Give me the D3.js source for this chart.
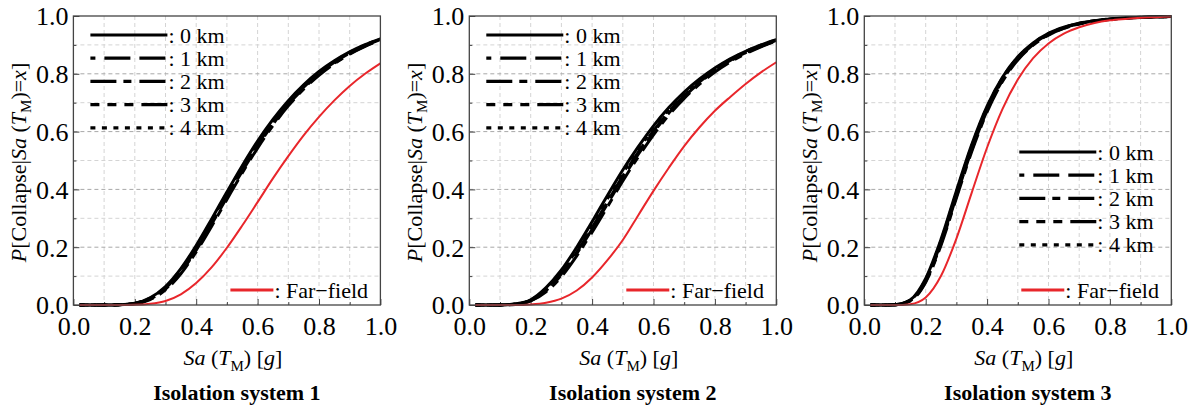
<!DOCTYPE html>
<html>
<head>
<meta charset="utf-8">
<script src="https://cdn.jsdelivr.net/npm/d3@7"></script>
<style>
  body { margin: 0; background: #fff; }
  svg { display: block; }
  svg text { font-family: "Liberation Serif", "Times New Roman", serif; }
</style>
</head>
<body>
<div id="chart"></div>
<script>
// Sa(T_M) sample points (same for every curve)
var xs = [0.02, 0.05, 0.1, 0.15, 0.2, 0.25, 0.3, 0.35, 0.4, 0.45, 0.5,
          0.55, 0.6, 0.65, 0.7, 0.75, 0.8, 0.85, 0.9, 0.95, 1.0];

// Isolation system 1
var s1_0km = [0, 0, 0, 0.001, 0.006, 0.025, 0.064, 0.126, 0.206, 0.297, 0.391, 0.482, 0.567, 0.642, 0.707, 0.762, 0.808, 0.845, 0.876, 0.901, 0.921];
var s1_1km = [0, 0, 0, 0.001, 0.005, 0.022, 0.058, 0.117, 0.195, 0.285, 0.378, 0.469, 0.555, 0.631, 0.698, 0.754, 0.801, 0.840, 0.872, 0.898, 0.919];
var s1_2km = [0, 0, 0, 0.001, 0.004, 0.019, 0.052, 0.108, 0.184, 0.272, 0.365, 0.457, 0.543, 0.621, 0.689, 0.747, 0.795, 0.835, 0.868, 0.895, 0.917];
var s1_3km = [0, 0, 0, 0.001, 0.005, 0.021, 0.055, 0.113, 0.190, 0.279, 0.372, 0.463, 0.549, 0.626, 0.694, 0.750, 0.798, 0.837, 0.870, 0.896, 0.918];
var s1_4km = [0, 0, 0, 0.001, 0.006, 0.024, 0.062, 0.123, 0.202, 0.292, 0.386, 0.477, 0.562, 0.638, 0.703, 0.759, 0.805, 0.843, 0.874, 0.900, 0.920];
var s1_far = [0, 0, 0, 0, 0.0006, 0.004, 0.014, 0.037, 0.076, 0.130, 0.198, 0.275, 0.356, 0.438, 0.515, 0.587, 0.651, 0.708, 0.758, 0.800, 0.836];

// Isolation system 2
var s2_0km = [0, 0, 0.0002, 0.004, 0.018, 0.060, 0.121, 0.200, 0.288, 0.379, 0.467, 0.547, 0.620, 0.683, 0.737, 0.782, 0.820, 0.852, 0.878, 0.900, 0.918];
var s2_1km = [0, 0, 0.0001, 0.003, 0.016, 0.052, 0.108, 0.183, 0.268, 0.357, 0.446, 0.528, 0.603, 0.669, 0.725, 0.772, 0.812, 0.846, 0.873, 0.896, 0.916];
var s2_2km = [0, 0, 0.0001, 0.002, 0.014, 0.046, 0.098, 0.170, 0.252, 0.340, 0.429, 0.512, 0.589, 0.657, 0.715, 0.764, 0.806, 0.841, 0.869, 0.893, 0.914];
var s2_3km = [0, 0, 0.0001, 0.003, 0.015, 0.050, 0.104, 0.178, 0.262, 0.350, 0.439, 0.521, 0.597, 0.664, 0.721, 0.769, 0.810, 0.844, 0.872, 0.895, 0.915];
var s2_4km = [0, 0, 0.0001, 0.003, 0.017, 0.056, 0.114, 0.191, 0.278, 0.368, 0.456, 0.538, 0.612, 0.677, 0.732, 0.778, 0.817, 0.850, 0.877, 0.899, 0.917];
var s2_far = [0, 0, 0, 0, 0.002, 0.008, 0.022, 0.050, 0.095, 0.155, 0.225, 0.310, 0.395, 0.475, 0.550, 0.615, 0.672, 0.720, 0.765, 0.805, 0.840];

// Isolation system 3
var s3_0km = [0, 0, 0.001, 0.018, 0.092, 0.228, 0.395, 0.555, 0.688, 0.788, 0.859, 0.907, 0.940, 0.961, 0.975, 0.984, 0.990, 0.993, 0.996, 0.997, 0.998];
var s3_1km = [0, 0, 0.001, 0.016, 0.085, 0.217, 0.382, 0.543, 0.678, 0.781, 0.854, 0.903, 0.937, 0.959, 0.974, 0.983, 0.989, 0.993, 0.995, 0.997, 0.998];
var s3_2km = [0, 0, 0.001, 0.014, 0.079, 0.207, 0.370, 0.531, 0.668, 0.773, 0.848, 0.899, 0.934, 0.957, 0.972, 0.982, 0.988, 0.992, 0.995, 0.997, 0.998];
var s3_3km = [0, 0, 0.001, 0.015, 0.082, 0.212, 0.376, 0.537, 0.673, 0.777, 0.851, 0.901, 0.935, 0.958, 0.973, 0.983, 0.989, 0.993, 0.995, 0.997, 0.998];
var s3_4km = [0, 0, 0.001, 0.017, 0.089, 0.223, 0.389, 0.550, 0.684, 0.785, 0.857, 0.905, 0.939, 0.960, 0.975, 0.984, 0.990, 0.993, 0.996, 0.997, 0.998];
var s3_far = [0, 0, 0, 0.003, 0.026, 0.101, 0.230, 0.389, 0.545, 0.678, 0.780, 0.854, 0.905, 0.939, 0.961, 0.976, 0.985, 0.990, 0.994, 0.996, 0.998];

var seriesNames = ["0 km", "1 km", "2 km", "3 km", "4 km"];
var farName = "Far\u2212field";
var titles = ["Isolation system 1", "Isolation system 2", "Isolation system 3"];
var majorTicks = [0, 0.2, 0.4, 0.6, 0.8, 1.0];
var minorTicks = [0.1, 0.3, 0.5, 0.7, 0.9];

var panels = [
    { left: 73.4,  near: [s1_0km, s1_1km, s1_2km, s1_3km, s1_4km], far: s1_far, legX: 17,  legY: 19 },
    { left: 469.3, near: [s2_0km, s2_1km, s2_2km, s2_3km, s2_4km], far: s2_far, legX: 17,  legY: 19 },
    { left: 864.3, near: [s3_0km, s3_1km, s3_2km, s3_3km, s3_4km], far: s3_far, legX: 155, legY: 136 }
];

// line styles for the 5 near-fault curves
var dashes = [null, "26,9", "26,7,8,8", "9,8,9,8,9,8,26,8", "5,6.5"];
var dashOffsets = [0, 21, 0, 0, 0];
var red = "#e8262b";
var serif = '"Liberation Serif", "Times New Roman", serif';

var marginTop = 16, width = 307, height = 289;

var svg = d3.select("#chart").append("svg")
    .attr("width", 1195)
    .attr("height", 407);

var x = d3.scaleLinear().domain([0, 1]).range([0, width]);
var y = d3.scaleLinear().domain([0, 1]).range([height, 0]);

var line = d3.line()
    .x(function (d) { return x(d[0]); })
    .y(function (d) { return y(d[1]); })
    .curve(d3.curveMonotoneX);

panels.forEach(function (p, i) {
    var g = svg.append("g")
        .attr("transform", "translate(" + p.left + "," + marginTop + ")");

    // grid: vertical every 0.1, horizontal major/minor
    var grid = d3.range(1, 10).map(function (k) { return k / 10; });
    g.selectAll(".vgrid").data(grid).enter().append("line")
        .attr("x1", function (d) { return x(d); })
        .attr("x2", function (d) { return x(d); })
        .attr("y1", 0).attr("y2", height)
        .attr("stroke", "#d4d4d4").attr("stroke-width", 1)
        .attr("stroke-dasharray", "4,3");
    g.selectAll(".hgrid").data(grid).enter().append("line")
        .attr("x1", 0).attr("x2", width)
        .attr("y1", function (d) { return y(d); })
        .attr("y2", function (d) { return y(d); })
        .attr("stroke", function (d, k) { return k % 2 == 1 ? "#a8a8a8" : "#d4d4d4"; })
        .attr("stroke-width", 1)
        .attr("stroke-dasharray", "4,3");

    // axes with inward ticks
    var yMajor = g.append("g")
        .call(d3.axisLeft(y).tickValues(majorTicks).tickSize(-6).tickPadding(5)
            .tickFormat(d3.format(".1f")));
    var yMinor = g.append("g")
        .call(d3.axisLeft(y).tickValues(minorTicks).tickSize(-3).tickFormat(""));
    var xMajor = g.append("g")
        .attr("transform", "translate(0," + height + ")")
        .call(d3.axisBottom(x).tickValues(majorTicks).tickSize(-6).tickPadding(12)
            .tickFormat(d3.format(".1f")));
    var xMinor = g.append("g")
        .attr("transform", "translate(0," + height + ")")
        .call(d3.axisBottom(x).tickValues(minorTicks).tickSize(-3).tickFormat(""));

    [yMajor, yMinor, xMajor, xMinor].forEach(function (a) {
        a.attr("font-family", serif).attr("font-size", 26);
        a.select(".domain").remove();
        a.selectAll(".tick line").attr("stroke", "#444");
        a.selectAll("text").attr("fill", "#000");
    });
    yMajor.selectAll("text").attr("dy", "0.34em");
    xMajor.selectAll("text").attr("dy", "0.68em");

    // curves
    p.near.forEach(function (vals, k) {
        g.append("path")
            .datum(xs.map(function (v, j) { return [v, vals[j]]; }))
            .attr("fill", "none")
            .attr("stroke", "#000")
            .attr("stroke-width", 3)
            .attr("stroke-dasharray", dashes[k])
            .attr("stroke-dashoffset", dashOffsets[k])
            .attr("d", line);
    });
    g.append("path")
        .datum(xs.map(function (v, j) { return [v, p.far[j]]; }))
        .attr("fill", "none")
        .attr("stroke", red)
        .attr("stroke-width", 2)
        .attr("d", line);

    // frame
    g.append("rect")
        .attr("width", width).attr("height", height)
        .attr("fill", "none").attr("stroke", "#444").attr("stroke-width", 1.3);

    // legend
    seriesNames.forEach(function (name, k) {
        var ly = p.legY + k * 23.2;
        g.append("line")
            .attr("x1", p.legX).attr("x2", p.legX + 77)
            .attr("y1", ly).attr("y2", ly)
            .attr("stroke", "#000").attr("stroke-width", 3.2)
            .attr("stroke-dasharray", dashes[k])
            .attr("stroke-dashoffset", dashOffsets[k]);
        g.append("text")
            .attr("x", p.legX + 78).attr("y", ly + 7.5)
            .attr("font-family", serif)
            .attr("font-size", 22)
            .text(": " + name);
    });
    g.append("line")
        .attr("x1", 157).attr("x2", 200)
        .attr("y1", 274).attr("y2", 274)
        .attr("stroke", red).attr("stroke-width", 3);
    g.append("text")
        .attr("x", 201).attr("y", 281.5)
        .attr("font-family", serif)
        .attr("font-size", 22)
        .text(": " + farName);

    // y label
    var yl = g.append("text")
        .attr("transform", "translate(-47," + (height / 2 + 2) + ") rotate(-90)")
        .attr("text-anchor", "middle")
        .attr("font-family", serif)
        .attr("font-size", 22);
    yl.append("tspan").attr("font-style", "italic").text("P");
    yl.append("tspan").text("[Collapse|");
    yl.append("tspan").attr("font-style", "italic").text("Sa");
    yl.append("tspan").text(" (");
    yl.append("tspan").attr("font-style", "italic").text("T");
    yl.append("tspan").attr("dy", 5).attr("font-size", 15).text("M");
    yl.append("tspan").attr("dy", -5).text(")=");
    yl.append("tspan").attr("font-style", "italic").text("x");
    yl.append("tspan").text("]");

    // x label
    var xl = g.append("text")
        .attr("x", width / 2 + 6).attr("y", height + 60)
        .attr("text-anchor", "middle")
        .attr("font-family", serif)
        .attr("font-size", 22);
    xl.append("tspan").attr("font-style", "italic").text("Sa");
    xl.append("tspan").text(" (");
    xl.append("tspan").attr("font-style", "italic").text("T");
    xl.append("tspan").attr("dy", 6).attr("font-size", 15).text("M");
    xl.append("tspan").attr("dy", -6).text(") [");
    xl.append("tspan").attr("font-style", "italic").text("g");
    xl.append("tspan").text("]");

    // panel title
    g.append("text")
        .attr("x", width / 2 + 10).attr("y", height + 95)
        .attr("text-anchor", "middle")
        .attr("font-family", serif)
        .attr("font-size", 22)
        .attr("font-weight", 700)
        .text(titles[i]);
});
</script>
</body>
</html>
